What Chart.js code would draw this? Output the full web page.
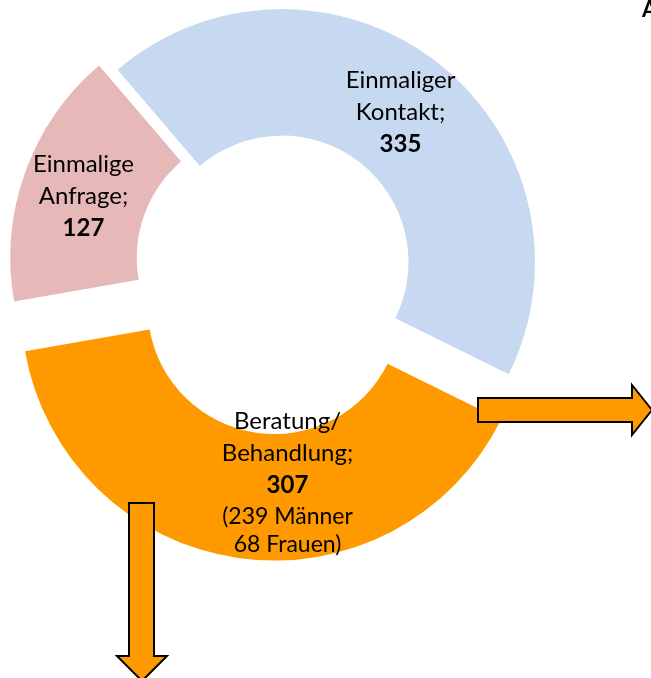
<!DOCTYPE html>
<html>
<head>
<meta charset="utf-8">
<script src="https://cdn.jsdelivr.net/npm/chart.js@4/dist/chart.umd.min.js"></script>
<style>
  html, body { margin: 0; padding: 0; background: #fff; }
  #chart { display: block; }
</style>
</head>
<body>
<canvas id="chart" width="651" height="678"></canvas>
<script>
const categories = ['Einmaliger Kontakt', 'Beratung/Behandlung', 'Einmalige Anfrage'];
const values = [335, 307, 127];
const labelLines = [['Einmaliger', 'Kontakt;'], ['Beratung/', 'Behandlung;'], ['Einmalige', 'Anfrage;']];
const notes = [[], ['(239 Männer', '68 Frauen)'], []];

const colors = ['#c6d9f1', '#ff9900', '#e6b9b8'];
// how far each slice is pulled out, in px (like Excel's point explosion)
const explode = [2.4, 44, 18.3];

// where each label block sits, relative to the doughnut centre
const labelPos = [
  { dx: 120, dy: -184 },
  { dx: 7, dy: 157 },
  { dx: -197, dy: -100 },
];

const FONT = "Lato, 'Open Sans', sans-serif";

function drawArrow(ctx, pts) {
  ctx.beginPath();
  ctx.moveTo(pts[0][0], pts[0][1]);
  for (let i = 1; i < pts.length; i++) ctx.lineTo(pts[i][0], pts[i][1]);
  ctx.closePath();
  ctx.fillStyle = '#ff9900';
  ctx.fill();
  ctx.lineWidth = 2;
  ctx.strokeStyle = '#000';
  ctx.lineJoin = 'miter';
  ctx.stroke();
}

// Chart.js "offset" also grows the radius, so shift the arcs ourselves
const explodePlugin = {
  id: 'explodeSlices',
  afterDatasetUpdate(chart, args) {
    args.meta.data.forEach((arc, i) => {
      const mid = (arc.startAngle + arc.endAngle) / 2;
      arc.x += Math.cos(mid) * explode[i];
      arc.y += Math.sin(mid) * explode[i];
    });
  },
};

const labelPlugin = {
  id: 'sliceLabels',
  afterDatasetsDraw(chart) {
    const ctx = chart.ctx;
    const area = chart.chartArea;
    const cx = (area.left + area.right) / 2;
    const cy = (area.top + area.bottom) / 2;
    ctx.save();
    ctx.fillStyle = '#000';
    ctx.textAlign = 'center';
    ctx.textBaseline = 'middle';
    values.forEach((v, i) => {
      const x = cx + labelPos[i].dx;
      let y = cy + labelPos[i].dy;
      ctx.font = '24px ' + FONT;
      labelLines[i].forEach(t => { ctx.fillText(t, x, y); y += 32; });
      ctx.font = 'bold 24px ' + FONT;
      ctx.fillText(String(v), x, y);
      y += 32;
      ctx.font = '23px ' + FONT;
      notes[i].forEach(t => { ctx.fillText(t, x, y); y += 28; });
    });
    ctx.restore();
  },
  afterDraw(chart) {
    const ctx = chart.ctx;
    ctx.save();
    // arrow to the right
    drawArrow(ctx, [[478, 398], [632, 398], [632, 385], [652, 410], [632, 435], [632, 422], [478, 422]]);
    // arrow down
    drawArrow(ctx, [[129, 503], [154, 503], [154, 656], [167, 656], [142, 681], [117, 656], [129, 656]]);
    // clipped heading at top right
    ctx.fillStyle = '#000';
    ctx.font = 'bold 22px ' + FONT;
    ctx.textAlign = 'left';
    ctx.textBaseline = 'alphabetic';
    ctx.fillText('A', 642, 17);
    ctx.restore();
  },
};

new Chart(document.getElementById('chart'), {
  type: 'doughnut',
  data: {
    labels: categories,
    datasets: [
      {
        data: values,
        backgroundColor: colors,
        borderWidth: 0,
        hoverOffset: 0,
      },
    ],
  },
  options: {
    responsive: false,
    animation: false,
    rotation: 319.5,
    radius: 253,
    cutout: '50%',
    layout: {
      padding: { left: 0, top: 0, right: 90, bottom: 150 },
    },
    plugins: {
      legend: { display: false },
      tooltip: { enabled: false },
    },
    events: [],
  },
  plugins: [explodePlugin, labelPlugin],
});
</script>
</body>
</html>
